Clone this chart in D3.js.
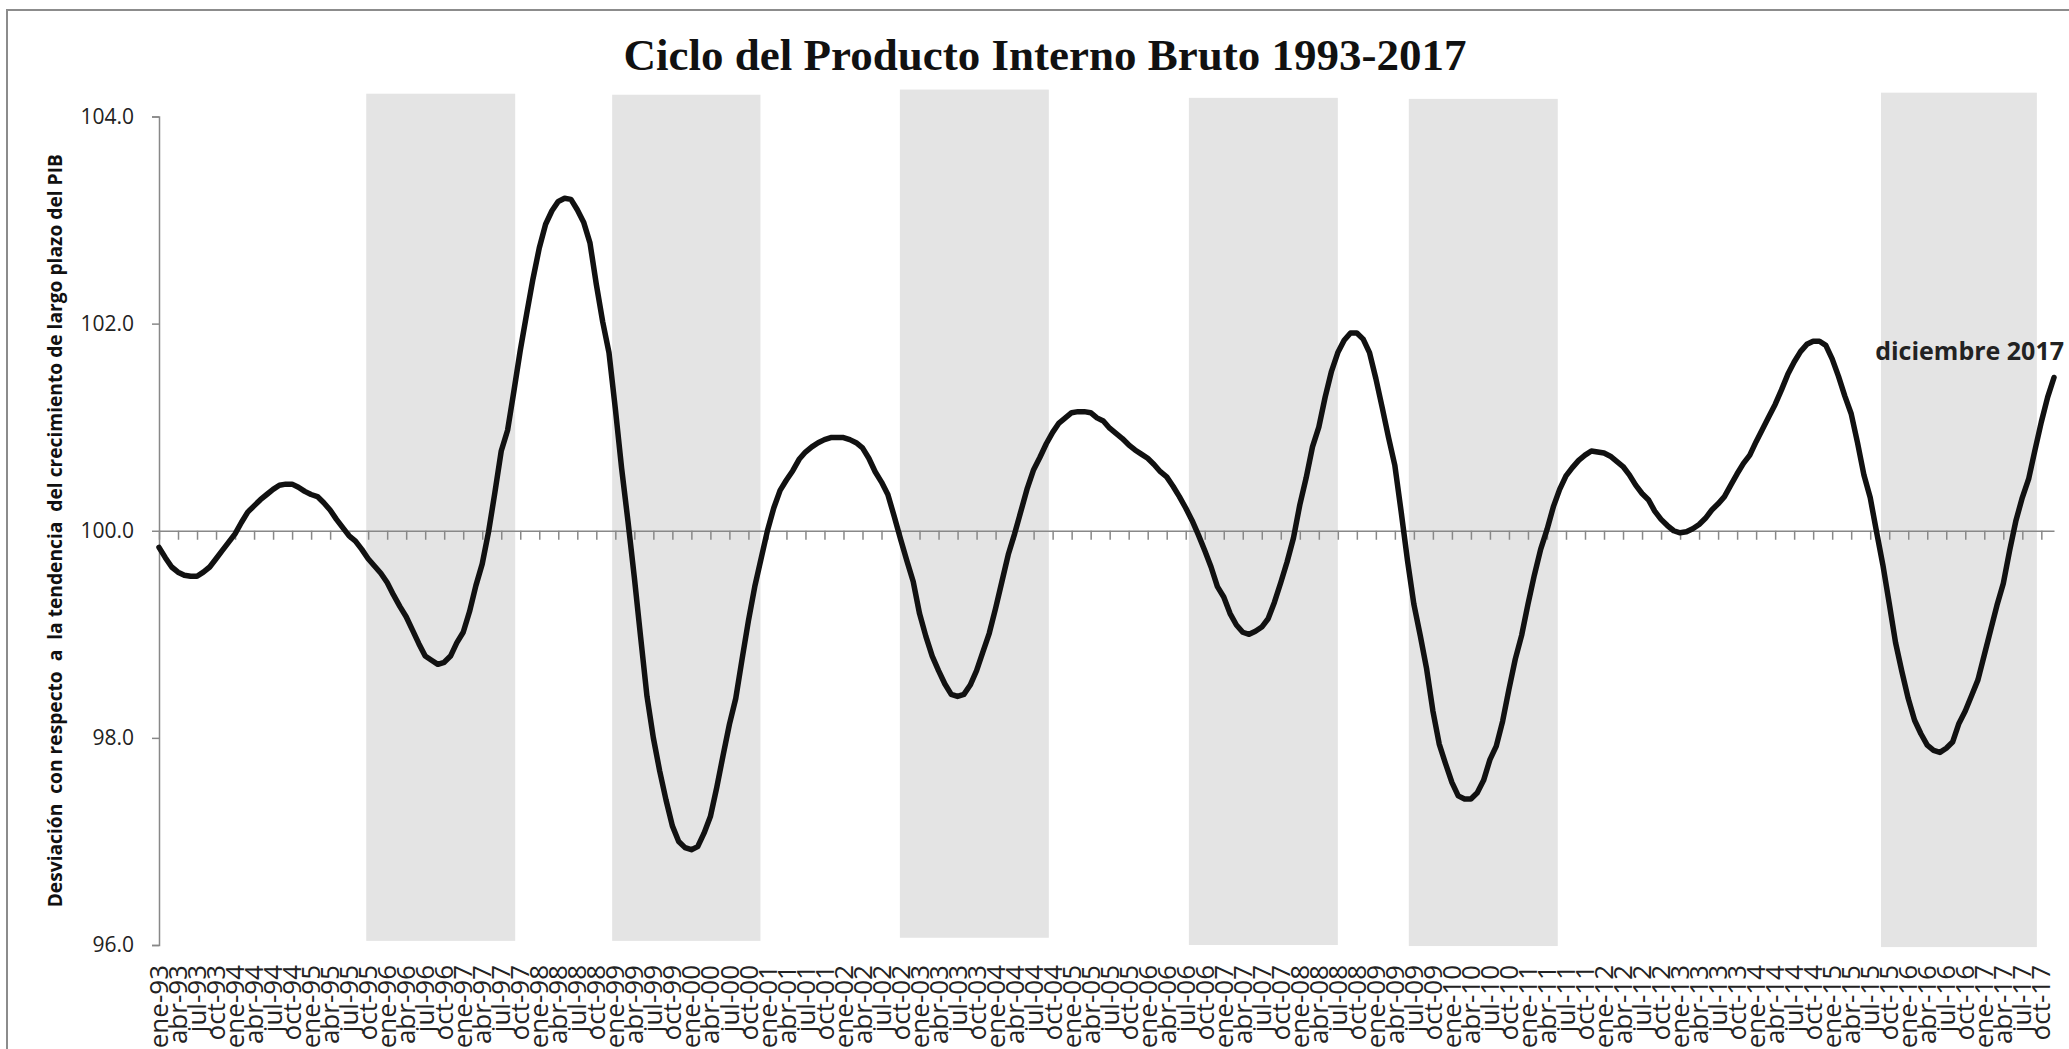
<!DOCTYPE html>
<html>
<head>
<meta charset="utf-8">
<script src="https://cdn.jsdelivr.net/npm/d3@7"></script>
<style>
  body { margin: 0; background: #fff; }
  svg { display: block; }
</style>
</head>
<body>
<svg id="chart" width="2069" height="1049"></svg>
<script>
// ---------- DATA ----------
const monthNames = ["ene","feb","mar","abr","may","jun","jul","ago","sep","oct","nov","dic"];
const years = [1993,1994,1995,1996,1997,1998,1999,2000,2001,2002,2003,2004,2005,2006,2007,2008,2009,2010,2011,2012,2013,2014,2015,2016,2017];
const categories = years.flatMap(y => monthNames.map(m => m + "-" + String(y).slice(2)));

const pib1993 = [99.84, 99.74, 99.65, 99.60, 99.57, 99.56, 99.56, 99.60, 99.65, 99.73, 99.81, 99.89];
const pib1994 = [99.97, 100.08, 100.18, 100.24, 100.30, 100.35, 100.40, 100.44, 100.45, 100.45, 100.42, 100.38];
const pib1995 = [100.35, 100.33, 100.27, 100.20, 100.11, 100.03, 99.95, 99.90, 99.82, 99.73, 99.66, 99.59];
const pib1996 = [99.50, 99.38, 99.27, 99.17, 99.04, 98.91, 98.79, 98.75, 98.71, 98.73, 98.79, 98.92];
const pib1997 = [99.02, 99.22, 99.47, 99.68, 99.99, 100.37, 100.77, 100.97, 101.35, 101.74, 102.09, 102.43];
const pib1998 = [102.73, 102.96, 103.09, 103.18, 103.21, 103.20, 103.10, 102.98, 102.78, 102.38, 102.02, 101.72];
const pib1999 = [101.18, 100.60, 100.09, 99.55, 98.97, 98.40, 98.00, 97.68, 97.40, 97.15, 97.00, 96.94];
const pib2000 = [96.92, 96.95, 97.08, 97.24, 97.52, 97.83, 98.13, 98.38, 98.76, 99.13, 99.46, 99.73];
const pib2001 = [100.00, 100.22, 100.39, 100.49, 100.58, 100.69, 100.76, 100.81, 100.85, 100.88, 100.90, 100.90];
const pib2002 = [100.90, 100.88, 100.85, 100.80, 100.70, 100.57, 100.47, 100.35, 100.14, 99.92, 99.71, 99.51];
const pib2003 = [99.20, 98.98, 98.79, 98.65, 98.52, 98.42, 98.40, 98.42, 98.51, 98.65, 98.83, 99.01];
const pib2004 = [99.25, 99.51, 99.77, 99.97, 100.19, 100.41, 100.59, 100.71, 100.84, 100.95, 101.04, 101.09];
const pib2005 = [101.14, 101.15, 101.15, 101.14, 101.09, 101.06, 100.99, 100.94, 100.89, 100.83, 100.78, 100.74];
const pib2006 = [100.70, 100.64, 100.57, 100.52, 100.43, 100.33, 100.22, 100.10, 99.96, 99.81, 99.65, 99.46];
const pib2007 = [99.36, 99.20, 99.09, 99.02, 99.00, 99.03, 99.07, 99.15, 99.31, 99.50, 99.70, 99.93];
const pib2008 = [100.25, 100.51, 100.81, 101.00, 101.29, 101.54, 101.72, 101.84, 101.91, 101.91, 101.85, 101.72];
const pib2009 = [101.47, 101.19, 100.90, 100.63, 100.18, 99.71, 99.29, 98.99, 98.67, 98.26, 97.94, 97.75];
const pib2010 = [97.57, 97.44, 97.41, 97.41, 97.47, 97.59, 97.79, 97.92, 98.16, 98.47, 98.76, 98.99];
const pib2011 = [99.29, 99.57, 99.82, 100.01, 100.23, 100.40, 100.53, 100.61, 100.68, 100.73, 100.77, 100.76];
const pib2012 = [100.75, 100.72, 100.67, 100.62, 100.54, 100.44, 100.36, 100.30, 100.19, 100.11, 100.05, 100.00];
const pib2013 = [99.98, 99.99, 100.02, 100.06, 100.12, 100.20, 100.26, 100.33, 100.44, 100.55, 100.65, 100.73];
const pib2014 = [100.86, 100.98, 101.10, 101.22, 101.36, 101.51, 101.63, 101.73, 101.80, 101.83, 101.83, 101.79];
const pib2015 = [101.66, 101.49, 101.30, 101.13, 100.85, 100.54, 100.32, 99.99, 99.67, 99.30, 98.92, 98.64];
const pib2016 = [98.38, 98.17, 98.04, 97.93, 97.88, 97.86, 97.90, 97.96, 98.14, 98.26, 98.41, 98.56];
const pib2017 = [98.80, 99.04, 99.28, 99.49, 99.81, 100.10, 100.32, 100.50, 100.78, 101.05, 101.29, 101.48];

const pib = [].concat(pib1993, pib1994, pib1995, pib1996, pib1997, pib1998, pib1999, pib2000,
  pib2001, pib2002, pib2003, pib2004, pib2005, pib2006, pib2007, pib2008, pib2009, pib2010,
  pib2011, pib2012, pib2013, pib2014, pib2015, pib2016, pib2017);

// shaded periods (in month-index units) and their vertical extents (value units)
const shadeStart  = [32.7, 71.5, 116.9, 162.5, 197.2, 271.7];
const shadeEnd    = [56.2, 94.9, 140.4, 186.0, 220.7, 296.3];
const shadeTop    = [104.22, 104.21, 104.26, 104.18, 104.17, 104.23];
const shadeBottom = [96.04, 96.04, 96.07, 96.00, 95.99, 95.98];

const yTicks = [96, 98, 100, 102, 104];
const tickStep = 3;  // label every 3 months
const titleText = "Ciclo del Producto Interno Bruto 1993-2017";
const yTitle = "Desviación  con respecto  a  la tendencia  del crecimiento de largo plazo del PIB";
const annotation = "diciembre 2017";

// ---------- LAYOUT ----------
const svg = d3.select("#chart");
const W = 2069, H = 1049;
const plotL = 159, plotR = 2054, plotT = 116.5, plotB = 945;
const sans = "'Open Sans', 'Noto Sans', sans-serif";

svg.append("rect").attr("width", W).attr("height", H).attr("fill", "#fff");
svg.append("rect").attr("x", 7).attr("y", 10).attr("width", W + 20).attr("height", H + 20)
  .attr("fill", "none").attr("stroke", "#8c8c8c").attr("stroke-width", 2);

const x = d3.scaleLinear().domain([0, pib.length - 1]).range([plotL, plotR]);
const y = d3.scaleLinear().domain([96, 104]).range([plotB, plotT]);

// shaded bands
svg.append("g").selectAll("rect").data(shadeStart).join("rect")
  .attr("x", (d) => x(d))
  .attr("width", (d, i) => x(shadeEnd[i]) - x(d))
  .attr("y", (d, i) => y(shadeTop[i]))
  .attr("height", (d, i) => y(shadeBottom[i]) - y(shadeTop[i]))
  .attr("fill", "#e4e4e4");

// y axis
const yAxis = svg.append("g").attr("transform", `translate(${plotL},0)`)
  .call(d3.axisLeft(y).tickValues(yTicks).tickFormat(d3.format(".1f")).tickSize(7).tickPadding(18));
yAxis.select(".domain").attr("stroke", "#888").attr("stroke-width", 1.5);
yAxis.selectAll(".tick line").attr("stroke", "#888").attr("stroke-width", 1.5);
yAxis.selectAll(".tick text").attr("font-family", sans).attr("font-size", 21).attr("fill", "#222");

// category axis line at 100 with downward ticks
const tickIdx = d3.range(0, pib.length, tickStep);
const xAxis = svg.append("g").attr("transform", `translate(0,${y(100)})`)
  .call(d3.axisBottom(x).tickValues(tickIdx).tickSize(9).tickSizeOuter(0).tickFormat(""));
xAxis.select(".domain").attr("stroke", "#888").attr("stroke-width", 1.5);
xAxis.selectAll(".tick line").attr("stroke", "#888").attr("stroke-width", 1.5);

// category labels (low position)
svg.append("g").selectAll("text").data(tickIdx).join("text")
  .attr("transform", (d) => `translate(${x(d)},965) rotate(-90)`)
  .attr("text-anchor", "end")
  .attr("dy", "0.35em")
  .attr("font-family", sans).attr("font-size", 26).attr("fill", "#222")
  .text((d) => categories[d]);

// line
svg.append("path").datum(pib)
  .attr("fill", "none").attr("stroke", "#111").attr("stroke-width", 5.5)
  .attr("stroke-linejoin", "round").attr("stroke-linecap", "round")
  .attr("d", d3.line().x((d, i) => x(i)).y((d) => y(d)));

// annotation
svg.append("text")
  .attr("x", x(pib.length - 1) + 10).attr("y", y(101.65))
  .attr("text-anchor", "end")
  .attr("font-family", sans).attr("font-weight", "bold").attr("font-size", 25).attr("fill", "#222")
  .text(annotation);

// title
svg.append("text")
  .attr("x", 1045).attr("y", 70).attr("text-anchor", "middle")
  .attr("font-family", "'Liberation Serif', 'DejaVu Serif', serif").attr("font-weight", "bold")
  .attr("font-size", 45).attr("fill", "#111")
  .text(titleText);

// y title
svg.append("text")
  .attr("transform", `translate(62,${(plotT + plotB) / 2}) rotate(-90)`)
  .attr("text-anchor", "middle")
  .style("white-space", "pre")
  .attr("font-family", sans).attr("font-weight", "bold").attr("font-size", 19.2).attr("fill", "#111")
  .text(yTitle);
</script>
</body>
</html>
